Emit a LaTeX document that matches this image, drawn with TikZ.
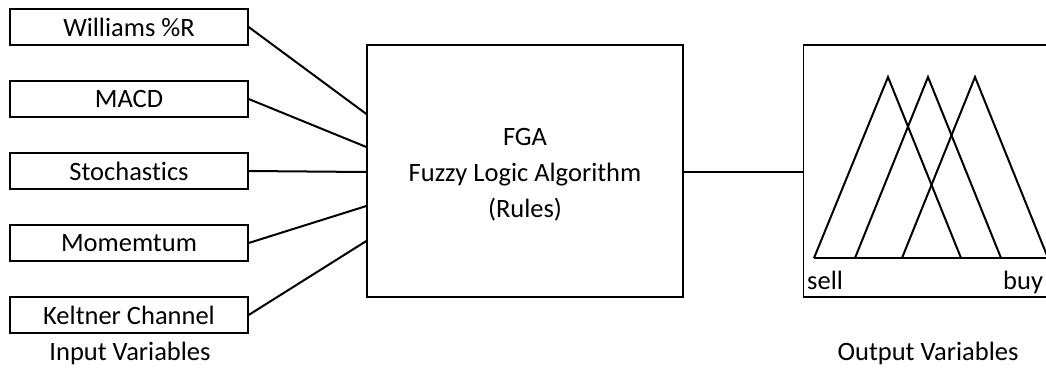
\documentclass[tikz,border=0pt]{standalone}
\usepackage{fontspec}
\setmainfont{Carlito}[Ligatures=NoCommon]
\begin{document}
\begin{tikzpicture}[x=1pt,y=-1pt,
  inbox/.style={draw=black,line width=1.3pt,minimum width=238pt,minimum height=36pt,inner sep=0pt,font=\fontsize{26.5}{30}\selectfont},
  lbl/.style={font=\fontsize{26.5}{30}\selectfont,inner sep=0pt},
  conn/.style={line width=2pt},
  tri/.style={line width=2pt,line join=miter}]
\useasboundingbox (0,0) rectangle (1046,367);
\clip (0,0) rectangle (1046,367);
\fill[white] (0,0) rectangle (1046,367);
\node[inbox] (w) at (129,27) {Williams \%R};
\node[inbox] (m) at (129,99) {MACD};
\node[inbox] (s) at (129,171) {Stochastics};
\node[inbox] (mo) at (129,243) {Momemtum};
\node[inbox] (k) at (129,315) {Keltner Channel};
\node[lbl] (inl) at (130,353) {Input Variables};
\node[draw=black,line width=1.3pt,minimum width=316pt,minimum height=252pt,inner sep=0pt] (fga) at (525,171) {};
\node[align=center,inner sep=0pt,font=\fontsize{26.5}{36}\selectfont] (fgat) at (525,175) {FGA\\Fuzzy Logic Algorithm\\(Rules)};
\node[draw=black,line width=1.3pt,minimum width=300pt,minimum height=252pt,inner sep=0pt,anchor=west] (out) at (803,171) {};
\node[lbl,anchor=base west] (sell) at (807,289) {sell};
\node[lbl,anchor=base west] (buy) at (1003,289) {buy};
\node[lbl] (outl) at (928,353) {Output Variables};
\draw[conn] (w.east) -- (fga.west |- 0,114);
\draw[conn] (m.east) -- (fga.west |- 0,147);
\draw[conn] (s.east) -- (fga.west |- 0,172);
\draw[conn] (mo.east) -- (fga.west |- 0,206);
\draw[conn] (k.east) -- (fga.west |- 0,241);
\draw[conn] (fga.east |- 0,172) -- (out.west |- 0,172);
\draw[tri] (814,258) -- (888,77) -- (961,258);
\draw[tri] (855,258) -- (928,77) -- (1001,258);
\draw[tri] (902,258) -- (975,77) -- (1048,258);
\draw[tri] (814,258) -- (1060,258);
\end{tikzpicture}
\end{document}
